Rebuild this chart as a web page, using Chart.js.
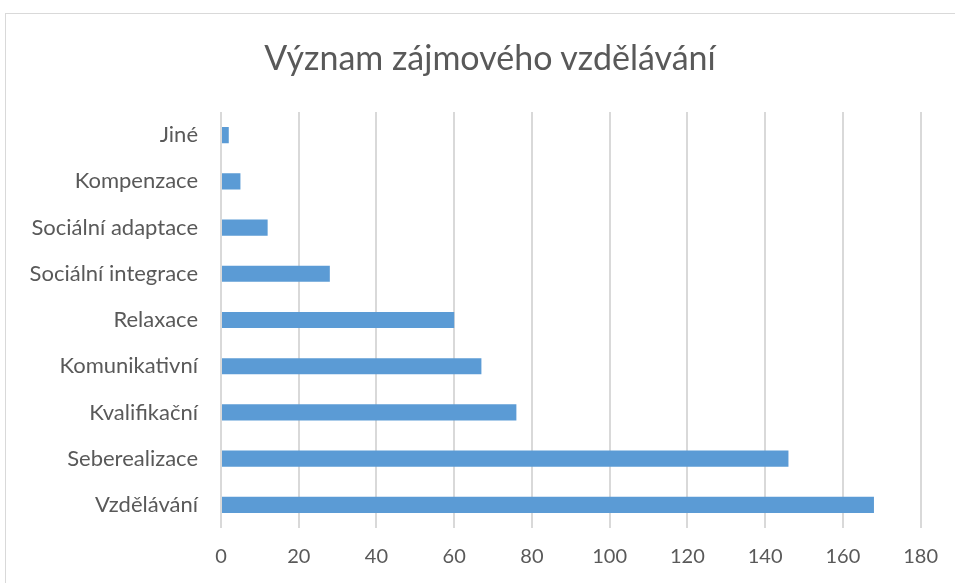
<!DOCTYPE html>
<html>
<head>
<meta charset="utf-8">
<script src="https://cdn.jsdelivr.net/npm/chart.js@4"></script>
<style>
    html, body { margin: 0; padding: 0; background: #fff; }
    #wrap { position: relative; width: 955px; height: 583px; overflow: hidden; }
    #frame { position: absolute; left: 5px; top: 13px; width: 1000px; height: 700px; border: 1px solid #d9d9d9; }
    #chart { position: absolute; left: 0; top: 0; }
    #title {
        position: absolute; left: 190px; width: 600px; top: 37px;
        text-align: center; white-space: nowrap;
        font-family: Lato, "Open Sans", sans-serif; font-size: 34px; line-height: 40px;
        color: #595959;
    }
</style>
</head>
<body>
<div id="wrap">
    <div id="frame"></div>
    <canvas id="chart" width="955" height="583"></canvas>
    <div id="title"></div>
</div>
<script>
const chartTitle = 'Význam zájmového vzdělávání'
const categories = ['Jiné', 'Kompenzace', 'Sociální adaptace', 'Sociální integrace', 'Relaxace', 'Komunikativní', 'Kvalifikační', 'Seberealizace', 'Vzdělávání']
const values = [2, 5, 12, 28, 60, 67, 76, 146, 168]
const xMin = 0
const xMax = 180
const xStep = 20

const textColor = '#595959'
const gridColor = '#d9d9d9'
const barColor = '#5b9bd5'
const fontFamily = 'Lato, "Open Sans", sans-serif'

document.getElementById('title').innerText = chartTitle

const ctx = document.getElementById('chart').getContext('2d')
const myChart = new Chart(ctx, {
    type: 'bar',
    data: {
        labels: categories,
        datasets: [{
            label: chartTitle,
            data: values,
            backgroundColor: barColor,
            borderWidth: 0,
            categoryPercentage: 0.7,
            barPercentage: 0.5
        }]
    },
    options: {
        indexAxis: 'y',
        responsive: false,
        animation: false,
        layout: {
            padding: { left: 0, right: 33, top: 112, bottom: 0 }
        },
        plugins: {
            legend: { display: false },
            tooltip: { enabled: false },
            title: { display: false }
        },
        scales: {
            x: {
                min: xMin,
                max: xMax,
                ticks: {
                    stepSize: xStep,
                    color: textColor,
                    padding: 17,
                    font: { family: fontFamily, size: 20 }
                },
                grid: { color: gridColor, lineWidth: 2, drawTicks: false },
                border: { display: false },
                afterFit: scale => { scale.height = 55 }
            },
            y: {
                ticks: {
                    color: textColor,
                    padding: 23,
                    font: { family: fontFamily, size: 22 }
                },
                grid: { display: false, drawTicks: false },
                border: { display: false },
                afterFit: scale => { scale.width = 221 }
            }
        }
    }
})
</script>
</body>
</html>
